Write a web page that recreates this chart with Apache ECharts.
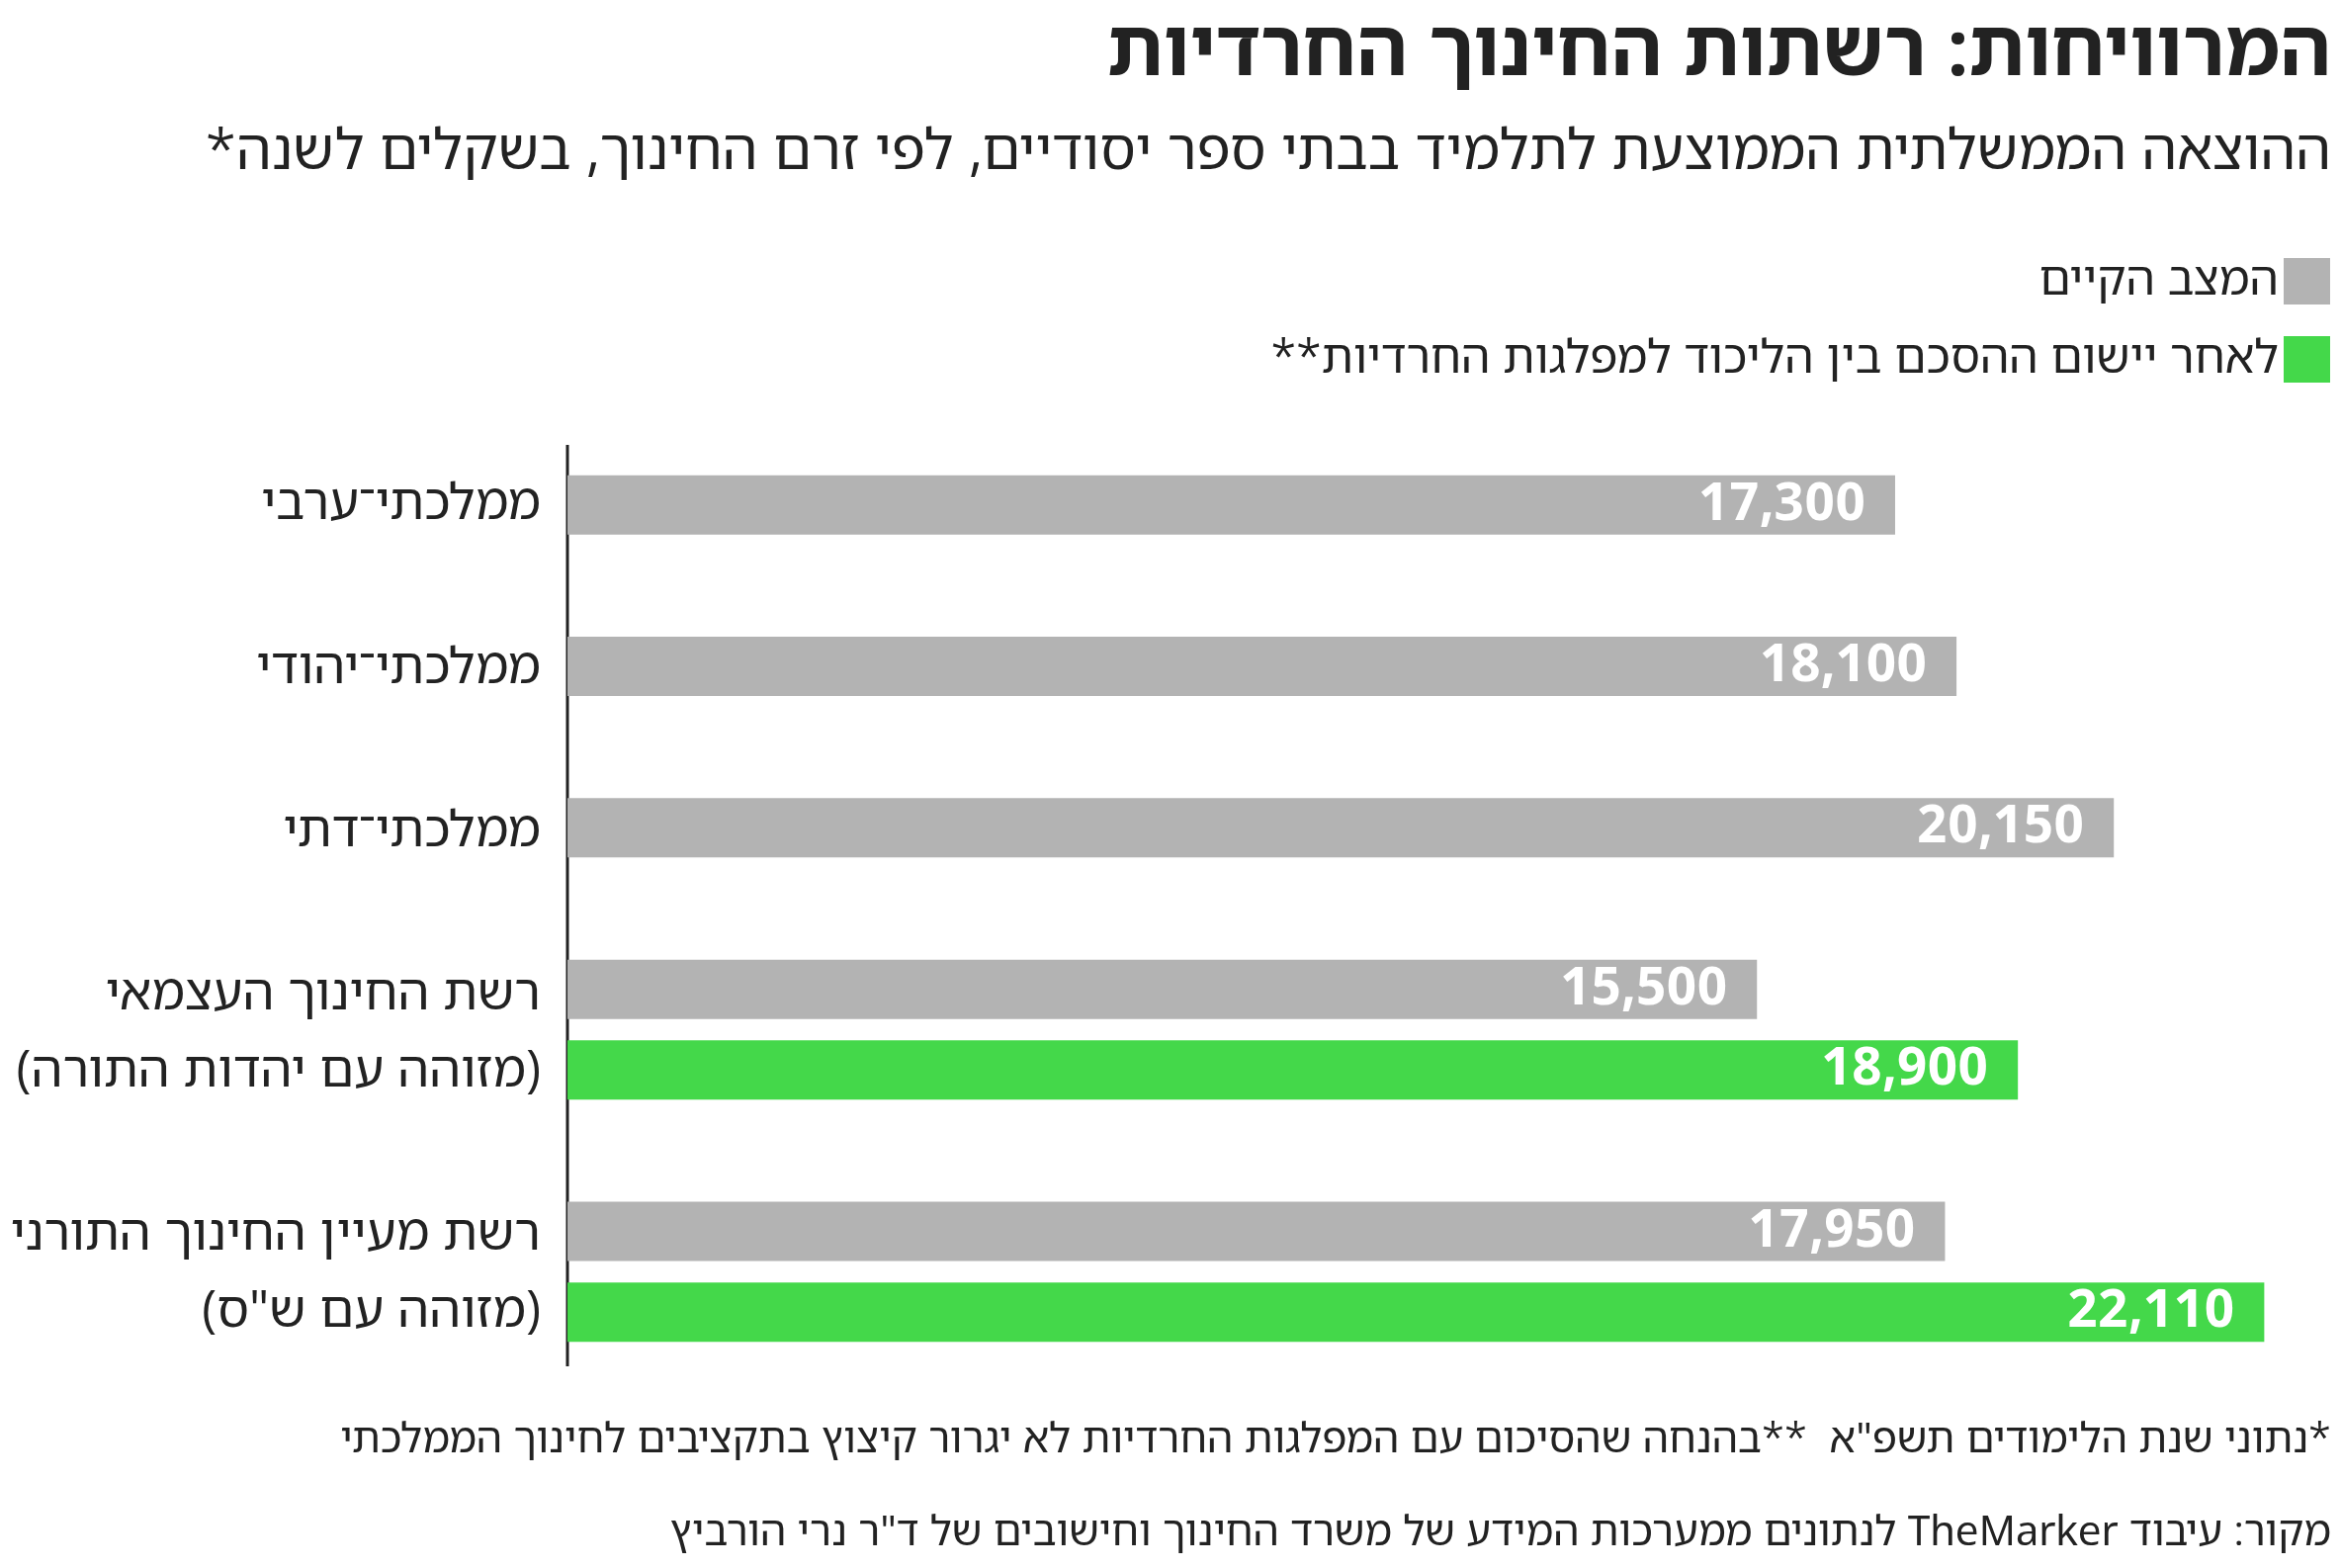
<!DOCTYPE html>
<html dir="rtl">
<head>
<meta charset="utf-8">
<script src="https://cdn.jsdelivr.net/npm/echarts@6/dist/echarts.min.js"></script>
<style>html,body{margin:0;padding:0;background:#fff;} #chart{width:2368px;height:1586px;direction:rtl;}</style>
</head>
<body>
<div id="chart"></div>
<script>
// slots on the category axis, empty slots keep the spacing between groups
var slots = ['a', 'g1', 'b', 'g2', 'c', 'g3', 'd1', 'd2', 'g4', 'e1', 'e2'];
var currentVals = [17300, '-', 18100, '-', 20150, '-', 15500, '-', '-', 17950, '-'];
var afterVals = ['-', '-', '-', '-', '-', '-', '-', 18900, '-', '-', 22110];
var seriesNames = ['המצב הקיים', 'לאחר יישום ההסכם בין הליכוד למפלגות החרדיות**'];
var rowLabels = [
    { text: 'ממלכתי־ערבי', y: 510 },
    { text: 'ממלכתי־יהודי', y: 676 },
    { text: 'ממלכתי־דתי', y: 841 },
    { text: 'רשת החינוך העצמאי\n(מזוהה עם יהדות התורה)', y: 1045 },
    { text: 'רשת מעיין החינוך התורני\n(מזוהה עם ש"ס)', y: 1288 }
];

var font = "'Noto Sans Hebrew', 'DejaVu Sans', sans-serif";
var chart = echarts.init(document.getElementById('chart'));

var graphics = rowLabels.map(function (r) {
    return {
        type: 'text', x: 547, y: r.y,
        style: { text: r.text, font: '51px ' + font, fill: '#222', textAlign: 'right', textVerticalAlign: 'middle', lineHeight: 78 }
    };
});
graphics.push(
    { type: 'text', x: 2358, y: 53, style: { text: 'המרוויחות: רשתות החינוך החרדיות', font: 'bold 79px ' + font, fill: '#222', textAlign: 'right', textVerticalAlign: 'middle' } },
    { type: 'text', x: 2358, y: 155, style: { text: 'ההוצאה הממשלתית הממוצעת לתלמיד בבתי ספר יסודיים, לפי זרם החינוך, בשקלים לשנה*', font: '57px ' + font, fill: '#222', textAlign: 'right', textVerticalAlign: 'middle' } },
    { type: 'text', x: 2358, y: 1457, style: { text: '*נתוני שנת הלימודים תשפ"א  **בהנחה שהסיכום עם המפלגות החרדיות לא יגרור קיצוץ בתקציבים לחינוך הממלכתי', font: '42px ' + font, fill: '#222', textAlign: 'right', textVerticalAlign: 'middle' } },
    { type: 'text', x: 2358, y: 1551, style: { text: 'מקור: עיבוד TheMarker לנתונים ממערכות המידע של משרד החינוך וחישובים של ד"ר נרי הורביץ', font: '42px ' + font, fill: '#222', textAlign: 'right', textVerticalAlign: 'middle' } },
    { type: 'line', shape: { x1: 574, y1: 450, x2: 574, y2: 1382 }, style: { stroke: '#222', lineWidth: 3 } }
);

var labelFmt = function (p) { return p.value.toLocaleString('en-US'); };

var option = {
    animation: false,
    grid: { left: 574, right: 0, top: 470, bottom: 1586 - 1368 },
    legend: {
        orient: 'vertical', right: 6, top: 256, align: 'right',
        itemWidth: 47, itemHeight: 47, itemGap: 32, icon: 'rect',
        textStyle: { fontSize: 47, fontFamily: font, color: '#222' },
        data: seriesNames
    },
    xAxis: { type: 'value', min: 0, max: 23110, show: false },
    yAxis: {
        type: 'category', data: slots, inverse: true,
        axisLine: { show: false }, axisTick: { show: false }, axisLabel: { show: false }
    },
    series: [
        { name: seriesNames[0], type: 'bar', data: currentVals, barWidth: 60, barGap: '-100%', itemStyle: { color: '#b3b3b3' },
          label: { show: true, position: 'insideRight', distance: 30, color: '#fff', fontWeight: 'bold', fontSize: 53, fontFamily: font, formatter: labelFmt } },
        { name: seriesNames[1], type: 'bar', data: afterVals, barWidth: 60, itemStyle: { color: '#44d84a' },
          label: { show: true, position: 'insideRight', distance: 30, color: '#fff', fontWeight: 'bold', fontSize: 53, fontFamily: font, formatter: labelFmt } }
    ],
    graphic: graphics
};
chart.setOption(option);
</script>
</body>
</html>
